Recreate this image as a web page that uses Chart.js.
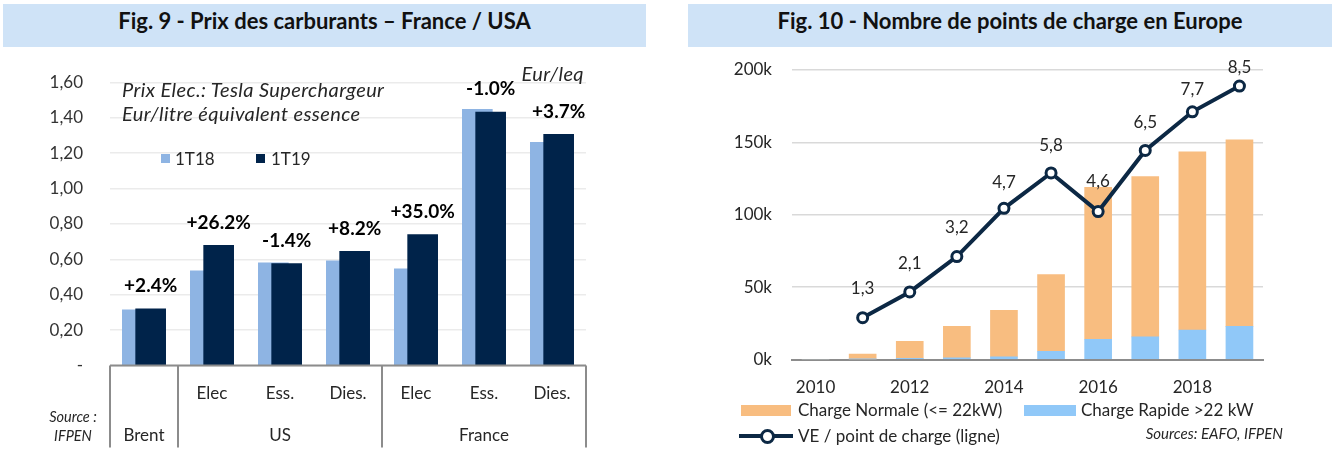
<!DOCTYPE html>
<html lang="fr">
<head>
<meta charset="utf-8">
<script src="https://cdn.jsdelivr.net/npm/chart.js@4.4.1/dist/chart.umd.min.js"></script>
<style>
  body { margin: 0; width: 1332px; height: 476px; background: #fff; position: relative; overflow: hidden;
         font-family: Lato, "Noto Sans", sans-serif; color: #262626; }
  .band { position: absolute; top: 4px; height: 43px; line-height: 34px; background: #cfe3f7;
          text-align: center; font-weight: bold; font-size: 22px; color: #111; }
  canvas { position: absolute; top: 50px; }
  .txt { position: absolute; white-space: nowrap; height: 20px; line-height: 20px; font-size: 17px; }
  .it { font-style: italic; }
  .big { font-size: 20px; letter-spacing: 0.4px; }
  .sw { position: absolute; }
</style>
</head>
<body>
<div class="band" style="left:3px;width:643px">Fig. 9 - Prix des carburants – France / USA</div>
<div class="band" style="left:688px;width:644px">Fig. 10 - Nombre de points de charge en Europe</div>

<canvas id="fig9" width="660" height="426" style="left:0"></canvas>
<canvas id="fig10" width="662" height="426" style="left:670px"></canvas>

<!-- fig 9 : textes libres -->
<div class="txt it big" style="left:122px;top:79px">Prix Elec.: Tesla Superchargeur</div>
<div class="txt it big" style="left:122px;top:103px">Eur/litre équivalent essence</div>
<div class="txt it big" style="right:748px;top:63px">Eur/leq</div>
<div class="sw" style="left:161px;top:154px;width:9px;height:9px;background:#8eb4e3"></div>
<div class="txt" style="left:175px;top:149px">1T18</div>
<div class="sw" style="left:256px;top:154px;width:9px;height:9px;background:#00234a"></div>
<div class="txt" style="left:271px;top:149px">1T19</div>
<div class="txt it" style="left:33px;width:80px;text-align:center;top:407px;font-size:14.5px">Source :</div>
<div class="txt it" style="left:33px;width:80px;text-align:center;top:426px;font-size:14.5px">IFPEN</div>

<!-- fig 10 : légende -->
<div class="sw" style="left:741px;top:405px;width:50px;height:11px;background:#f8bd80"></div>
<div class="txt" style="left:798px;top:400px">Charge Normale (&lt;= 22kW)</div>
<div class="sw" style="left:1024px;top:405px;width:52px;height:11px;background:#90c8f8"></div>
<div class="txt" style="left:1081px;top:400px">Charge Rapide &gt;22 kW</div>
<div class="sw" style="left:739px;top:434px;width:54px;height:4px;background:#0c2844"></div>
<div class="sw" style="left:760px;top:429px;width:9px;height:9px;border:3px solid #0c2844;border-radius:50%;background:#fff"></div>
<div class="txt" style="left:798px;top:426px">VE / point de charge (ligne)</div>
<div class="txt it" style="right:49px;top:423px;font-size:15px">Sources: EAFO, IFPEN</div>

<script>
// ---- Fig. 9 : prix des carburants (Eur/litre équivalent essence)
const sousCategories = ['', 'Elec', 'Ess.', 'Dies.', 'Elec', 'Ess.', 'Dies.'];
const groupes = ['Brent', 'US', 'France'];
const tailleGroupes = [1, 3, 3];
const prix1T18 = [0.315, 0.536, 0.581, 0.592, 0.547, 1.448, 1.262];
const prix1T19 = [0.321, 0.679, 0.577, 0.645, 0.740, 1.433, 1.306];
const variations = ['+2.4%', '+26.2%', '-1.4%', '+8.2%', '+35.0%', '-1.0%', '+3.7%'];

// ---- Fig. 10 : points de charge en Europe (milliers)
const annees = ['2010', '2011', '2012', '2013', '2014', '2015', '2016', '2017', '2018', '2019'];
const chargeRapide = [0, 0.2, 0.8, 1.1, 1.8, 5.7, 14.0, 15.6, 20.4, 22.9];
const chargeNormale = [0, 3.5, 11.8, 21.8, 32.1, 53.0, 104.9, 110.7, 123.1, 128.9];
const vePointCharge = [null, 1.3, 2.1, 3.2, 4.7, 5.8, 4.6, 6.5, 7.7, 8.5];
const decalEtiquettes = [0, 29, 28, 29, 26, 27, 30, 28, 22, 19];

const txtFont = { family: 'Lato', size: 17 };
const decal = 0.098; // demi-décalage des barres qui se chevauchent

const boitesFig9 = {
  id: 'boitesFig9',
  afterDraw(chart) {
    const { ctx, chartArea, scales: { x } } = chart;
    const bas = chartArea.bottom;
    ctx.save();
    ctx.strokeStyle = '#8c8c8c';
    ctx.lineWidth = 2;
    ctx.beginPath();
    ctx.moveTo(chartArea.left, bas);
    ctx.lineTo(chartArea.right, bas);
    let pos = -0.5;
    const seps = [pos];
    tailleGroupes.forEach(n => { pos += n; seps.push(pos); });
    seps.forEach(v => {
      const px = Math.round(x.getPixelForValue(v));
      ctx.moveTo(px, bas);
      ctx.lineTo(px, bas + 82);
    });
    ctx.stroke();

    ctx.font = '17px Lato';
    ctx.fillStyle = '#262626';
    ctx.textAlign = 'center';
    ctx.textBaseline = 'middle';
    sousCategories.forEach((s, i) => ctx.fillText(s, x.getPixelForValue(i), bas + 27.5));
    groupes.forEach((g, k) => {
      const cx = (x.getPixelForValue(seps[k]) + x.getPixelForValue(seps[k + 1])) / 2;
      ctx.fillText(g, cx, bas + 69.5);
    });

    ctx.font = 'bold 19px Lato';
    ctx.fillStyle = '#000';
    chart.getDatasetMeta(1).data.forEach((bar, i) => ctx.fillText(variations[i], bar.x, bar.y - 23));
    ctx.restore();
  }
};

new Chart(document.getElementById('fig9'), {
  type: 'bar',
  data: {
    datasets: [
      { label: '1T18', data: prix1T18.map((v, i) => ({ x: i - decal, y: v })),
        backgroundColor: '#8eb4e3', order: 2 },
      { label: '1T19', data: prix1T19.map((v, i) => ({ x: i + decal, y: v })),
        backgroundColor: '#00234a', order: 1 }
    ]
  },
  options: {
    responsive: false,
    animation: false,
    layout: { padding: { left: 0, right: 74, top: 32.4, bottom: 110.4 } },
    datasets: { bar: { grouped: false, barThickness: 30 } },
    plugins: { legend: { display: false }, tooltip: { enabled: false } },
    scales: {
      x: { type: 'linear', min: -0.5, max: 6.5, bounds: 'data', offset: false, display: false },
      y: {
        min: 0, max: 1.6,
        afterFit(s) { s.width = 110; },
        border: { display: false },
        // tickLength transparent plutôt que ticks.padding (qui gonfle la marge haute)
        grid: { color: '#ebebeb', lineWidth: 1.5, tickLength: 27, tickColor: 'transparent' },
        ticks: {
          stepSize: 0.2, padding: 0, color: '#333', font: txtFont,
          callback: v => (v === 0 ? '-' : v.toFixed(2).replace('.', ','))
        }
      }
    }
  },
  plugins: [boitesFig9]
});

const etiquettesLigne = {
  id: 'etiquettesLigne',
  afterDatasetsDraw(chart) {
    const { ctx } = chart;
    ctx.save();
    ctx.font = '17px Lato';
    ctx.fillStyle = '#262626';
    ctx.textAlign = 'center';
    ctx.textBaseline = 'middle';
    chart.getDatasetMeta(2).data.forEach((pt, i) => {
      const v = vePointCharge[i];
      if (v === null) return;
      ctx.fillText(v.toFixed(1).replace('.', ','), pt.x, pt.y - decalEtiquettes[i]);
    });
    ctx.restore();
  }
};

new Chart(document.getElementById('fig10'), {
  type: 'bar',
  data: {
    labels: annees,
    datasets: [
      { label: 'Charge Rapide >22 kW', data: chargeRapide, backgroundColor: '#90c8f8', order: 1 },
      { label: 'Charge Normale (<= 22kW)', data: chargeNormale, backgroundColor: '#f8bd80', order: 2 },
      { type: 'line', label: 'VE / point de charge (ligne)', data: vePointCharge, yAxisID: 'y1',
        borderColor: '#0c2844', borderWidth: 4, pointRadius: 5, pointBorderWidth: 3,
        pointBackgroundColor: '#fff', pointBorderColor: '#0c2844', order: 0 }
    ]
  },
  options: {
    responsive: false,
    animation: false,
    layout: { padding: { left: 0, right: 69, top: 20, bottom: 76.5 } },
    datasets: { bar: { barThickness: 27 } },
    plugins: { legend: { display: false }, tooltip: { enabled: false } },
    scales: {
      x: {
        stacked: true,
        afterFit(s) { s.height = 40; },
        grid: { display: false, drawTicks: false },
        border: { color: '#8c8c8c', width: 2 },
        ticks: {
          autoSkip: false, maxRotation: 0, padding: 17.6, color: '#262626', font: txtFont,
          callback: (v, i) => (i % 2 === 0 ? annees[i] : '')
        }
      },
      y: {
        stacked: true, min: 0, max: 200,
        afterFit(s) { s.width = 122; },
        border: { display: false },
        grid: { color: '#d9d9d9', lineWidth: 1.5, tickLength: 20, tickColor: 'transparent' },
        ticks: { stepSize: 50, padding: 0, color: '#262626', font: txtFont, callback: v => v + 'k' }
      },
      y1: { display: false, min: 0, max: 9 }
    }
  },
  plugins: [etiquettesLigne]
});
</script>
</body>
</html>
